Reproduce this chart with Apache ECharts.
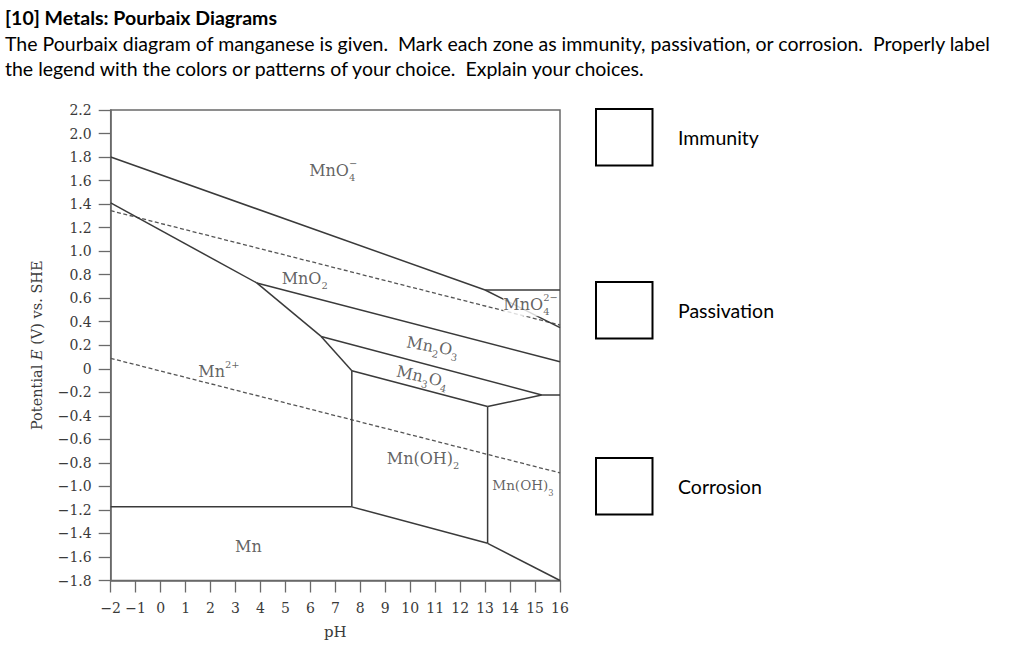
<!DOCTYPE html>
<html>
<head>
<meta charset="utf-8">
<script src="https://cdn.jsdelivr.net/npm/echarts@6/dist/echarts.min.js"></script>
<style>
html,body{margin:0;padding:0;background:#fff;}
#c{width:1024px;height:664px;}
</style>
</head>
<body>
<div id="c"></div>
<script>
// ---------- data ----------
const xTickLabels = ['\u22122','\u22121','0','1','2','3','4','5','6','7','8','9','10','11','12','13','14','15','16'];
const yTickLabels = ['\u22121.8','\u22121.6','\u22121.4','\u22121.2','\u22121.0','\u22120.8','\u22120.6','\u22120.4','\u22120.2','0','0.2','0.4','0.6','0.8','1.0','1.2','1.4','1.6','1.8','2.0','2.2'];

// solid phase boundaries [pH, E]
const lineMnO4_MnO2   = [[-2, 1.80], [13.0, 0.67]];
const lineMnO4_MnO42  = [[13.0, 0.67], [16, 0.67]];
const lineMnO42_MnO2  = [[13.0, 0.67], [16, 0.35]];
const lineMn2_MnO2    = [[-2, 1.41], [3.85, 0.73]];
const lineMnO2_Mn2O3  = [[3.85, 0.73], [16, 0.06]];
const lineMn2_Mn2O3   = [[3.85, 0.73], [6.43, 0.275]];
const lineMn2O3_Mn3O4 = [[6.43, 0.275], [15.27, -0.223]];
const lineMn2_Mn3O4   = [[6.43, 0.275], [7.66, -0.016]];
const lineMn3O4_MnOH2 = [[7.66, -0.016], [13.1, -0.321]];
const lineMn3O4_MnOH3 = [[13.1, -0.321], [15.27, -0.223]];
const lineMnOH3_Mn2O3 = [[15.27, -0.223], [16, -0.223]];
const lineMn2_MnOH2   = [[7.66, -0.016], [7.66, -1.174]];
const lineMnOH2_MnOH3 = [[13.1, -0.321], [13.1, -1.484]];
const lineMn_Mn2      = [[-2, -1.174], [7.66, -1.174]];
const lineMn_MnOH2    = [[7.66, -1.174], [13.1, -1.484]];
const lineMn_MnOH3    = [[13.1, -1.484], [16, -1.8]];

// water stability lines (dashed)
const waterO2 = [[-2, 1.344], [16, 0.372]];
const waterH2 = [[-2, 0.089], [16, -0.885]];

// region labels: text, anchor [pH, E] (left edge, middle)
const regionTexts = ['MnO{sub|4}', '{hid|MnO}{sup|\u2212}', 'MnO{sub|2}', 'MnO{sub|4}', '{hid|MnO}{sup|2\u2212}',
  'Mn{sub|2}O{sub|3}', 'Mn{sub|3}O{sub|4}', 'Mn{sup|2+}', 'Mn(OH){sub|2}', 'Mn(OH){sub|3}', 'Mn'];
const regionPos = [[5.95, 1.684], [5.95, 1.684], [4.85, 0.770], [13.73, 0.548], [13.73, 0.548],
  [9.86, 0.228], [9.46, -0.017], [1.51, -0.025], [9.06, -0.759], [13.29, -0.988], [2.98, -1.513]];

const legendLabels = ['Immunity', 'Passivation', 'Corrosion'];
const headerLines = [
  '[10] Metals: Pourbaix Diagrams',
  'The Pourbaix diagram of manganese is given.\u00a0 Mark each zone as immunity, passivation, or corrosion.\u00a0 Properly label',
  'the legend with the colors or patterns of your choice.\u00a0 Explain your choices.'
];

// ---------- chart ----------
const SERIF = 'DejaVu Serif';
const TXT = '#3a3a3a';
const LINE = '#3a3a3a';
const AX = '#6a6a6a';

const chart = echarts.init(document.getElementById('c'), null, {renderer: 'svg'});

const solidLines = [lineMnO4_MnO2, lineMnO4_MnO42, lineMnO42_MnO2, lineMn2_MnO2, lineMnO2_Mn2O3,
  lineMn2_Mn2O3, lineMn2O3_Mn3O4, lineMn2_Mn3O4, lineMn3O4_MnOH2, lineMn3O4_MnOH3, lineMnOH3_Mn2O3,
  lineMn2_MnOH2, lineMnOH2_MnOH3, lineMn_Mn2, lineMn_MnOH2, lineMn_MnOH3];

const series = [];
solidLines.forEach(d => series.push({
  type: 'line', data: d, symbol: 'none', silent: true, animation: false, z: 3,
  lineStyle: {color: LINE, width: 1.5}
}));
[waterO2, waterH2].forEach(d => series.push({
  type: 'line', data: d, symbol: 'none', silent: true, animation: false, z: 2,
  lineStyle: {color: '#555', width: 1.3, type: [4, 2.5]}
}));

const richBase = (fs) => ({
  sub: {fontFamily: SERIF, fontSize: fs * 0.62, color: TXT, lineHeight: 10, verticalAlign: 'bottom'},
  sup: {fontFamily: SERIF, fontSize: fs * 0.62, color: TXT, lineHeight: 10, verticalAlign: 'top'},
  hid: {fontFamily: SERIF, fontSize: fs, color: 'rgba(0,0,0,0)', lineHeight: 24}
});

const labelData = regionTexts.map((t, i) => {
  let fs = 16;
  if (t.indexOf('(OH){sub|3}') >= 0) fs = 13.5;
  const lab = {
    show: true, position: 'inside', align: 'left', verticalAlign: 'middle',
    formatter: t, fontFamily: SERIF, fontSize: fs, color: TXT, lineHeight: 24,
    rich: richBase(fs)
  };
  if (i === 3) { lab.backgroundColor = '#fff'; lab.padding = [0, 2, 0, 0]; }
  if (i === 5) lab.rotate = -10;
  if (i === 6) lab.rotate = -13;
  return {value: regionPos[i], label: lab};
});
series.push({
  type: 'scatter', data: labelData, symbol: 'circle', symbolSize: 1, silent: true, animation: false, z: 5,
  itemStyle: {color: 'rgba(0,0,0,0)'}
});

const graphic = [];
const HFONT = 'Lato';
const HSIZE = 19.5;
graphic.push({type: 'text', x: 5, y: 17, style: {text: headerLines[0], font: 'bold ' + HSIZE + 'px ' + HFONT, fill: '#000', verticalAlign: 'middle'}});
graphic.push({type: 'text', x: 5, y: 43, style: {text: headerLines[1], font: HSIZE + 'px ' + HFONT, fill: '#000', verticalAlign: 'middle'}});
graphic.push({type: 'text', x: 5, y: 68, style: {text: headerLines[2], font: HSIZE + 'px ' + HFONT, fill: '#000', verticalAlign: 'middle'}});
const legendY = [109, 282, 458];
legendLabels.forEach((t, i) => {
  graphic.push({type: 'rect', shape: {x: 596, y: legendY[i], width: 56.5, height: 56.5},
    style: {fill: '#fff', stroke: '#000', lineWidth: 2}});
  graphic.push({type: 'text', x: 678, y: legendY[i] + 28.5,
    style: {text: t, font: HSIZE + 'px ' + HFONT, fill: '#000', verticalAlign: 'middle'}});
});

chart.setOption({
  animation: false,
  backgroundColor: '#fff',
  grid: {left: 110.7, right: 464, top: 110, bottom: 83.5, show: true, borderColor: AX, borderWidth: 1.5, backgroundColor: 'rgba(0,0,0,0)'},
  xAxis: {
    type: 'value', min: -2, max: 16, interval: 1,
    name: 'pH', nameLocation: 'middle', nameGap: 44,
    nameTextStyle: {fontFamily: SERIF, fontSize: 15, color: TXT},
    axisLine: {show: true, onZero: false, lineStyle: {color: AX, width: 1.5}},
    axisTick: {show: true, length: 12, lineStyle: {color: AX, width: 1.3}},
    axisLabel: {fontFamily: SERIF, fontSize: 14, color: TXT, margin: 20,
      formatter: (v) => xTickLabels[Math.round(v + 2)]},
    splitLine: {show: false}
  },
  yAxis: {
    type: 'value', min: -1.8, max: 2.2, interval: 0.2,
    name: 'Potential {i|E} (V) vs. SHE', nameLocation: 'middle', nameGap: 66, nameRotate: 90,
    nameTextStyle: {fontFamily: SERIF, fontSize: 14.5, color: TXT,
      rich: {i: {fontFamily: SERIF, fontStyle: 'italic', fontSize: 14.5, color: TXT}}},
    axisLine: {show: true, onZero: false, lineStyle: {color: AX, width: 1.5}},
    axisTick: {show: true, length: 12, lineStyle: {color: AX, width: 1.3}},
    axisLabel: {fontFamily: SERIF, fontSize: 14, color: TXT, margin: 19,
      formatter: (v) => yTickLabels[Math.round((v + 1.8) / 0.2)]},
    splitLine: {show: false}
  },
  graphic: graphic,
  series: series
});
</script>
</body>
</html>
